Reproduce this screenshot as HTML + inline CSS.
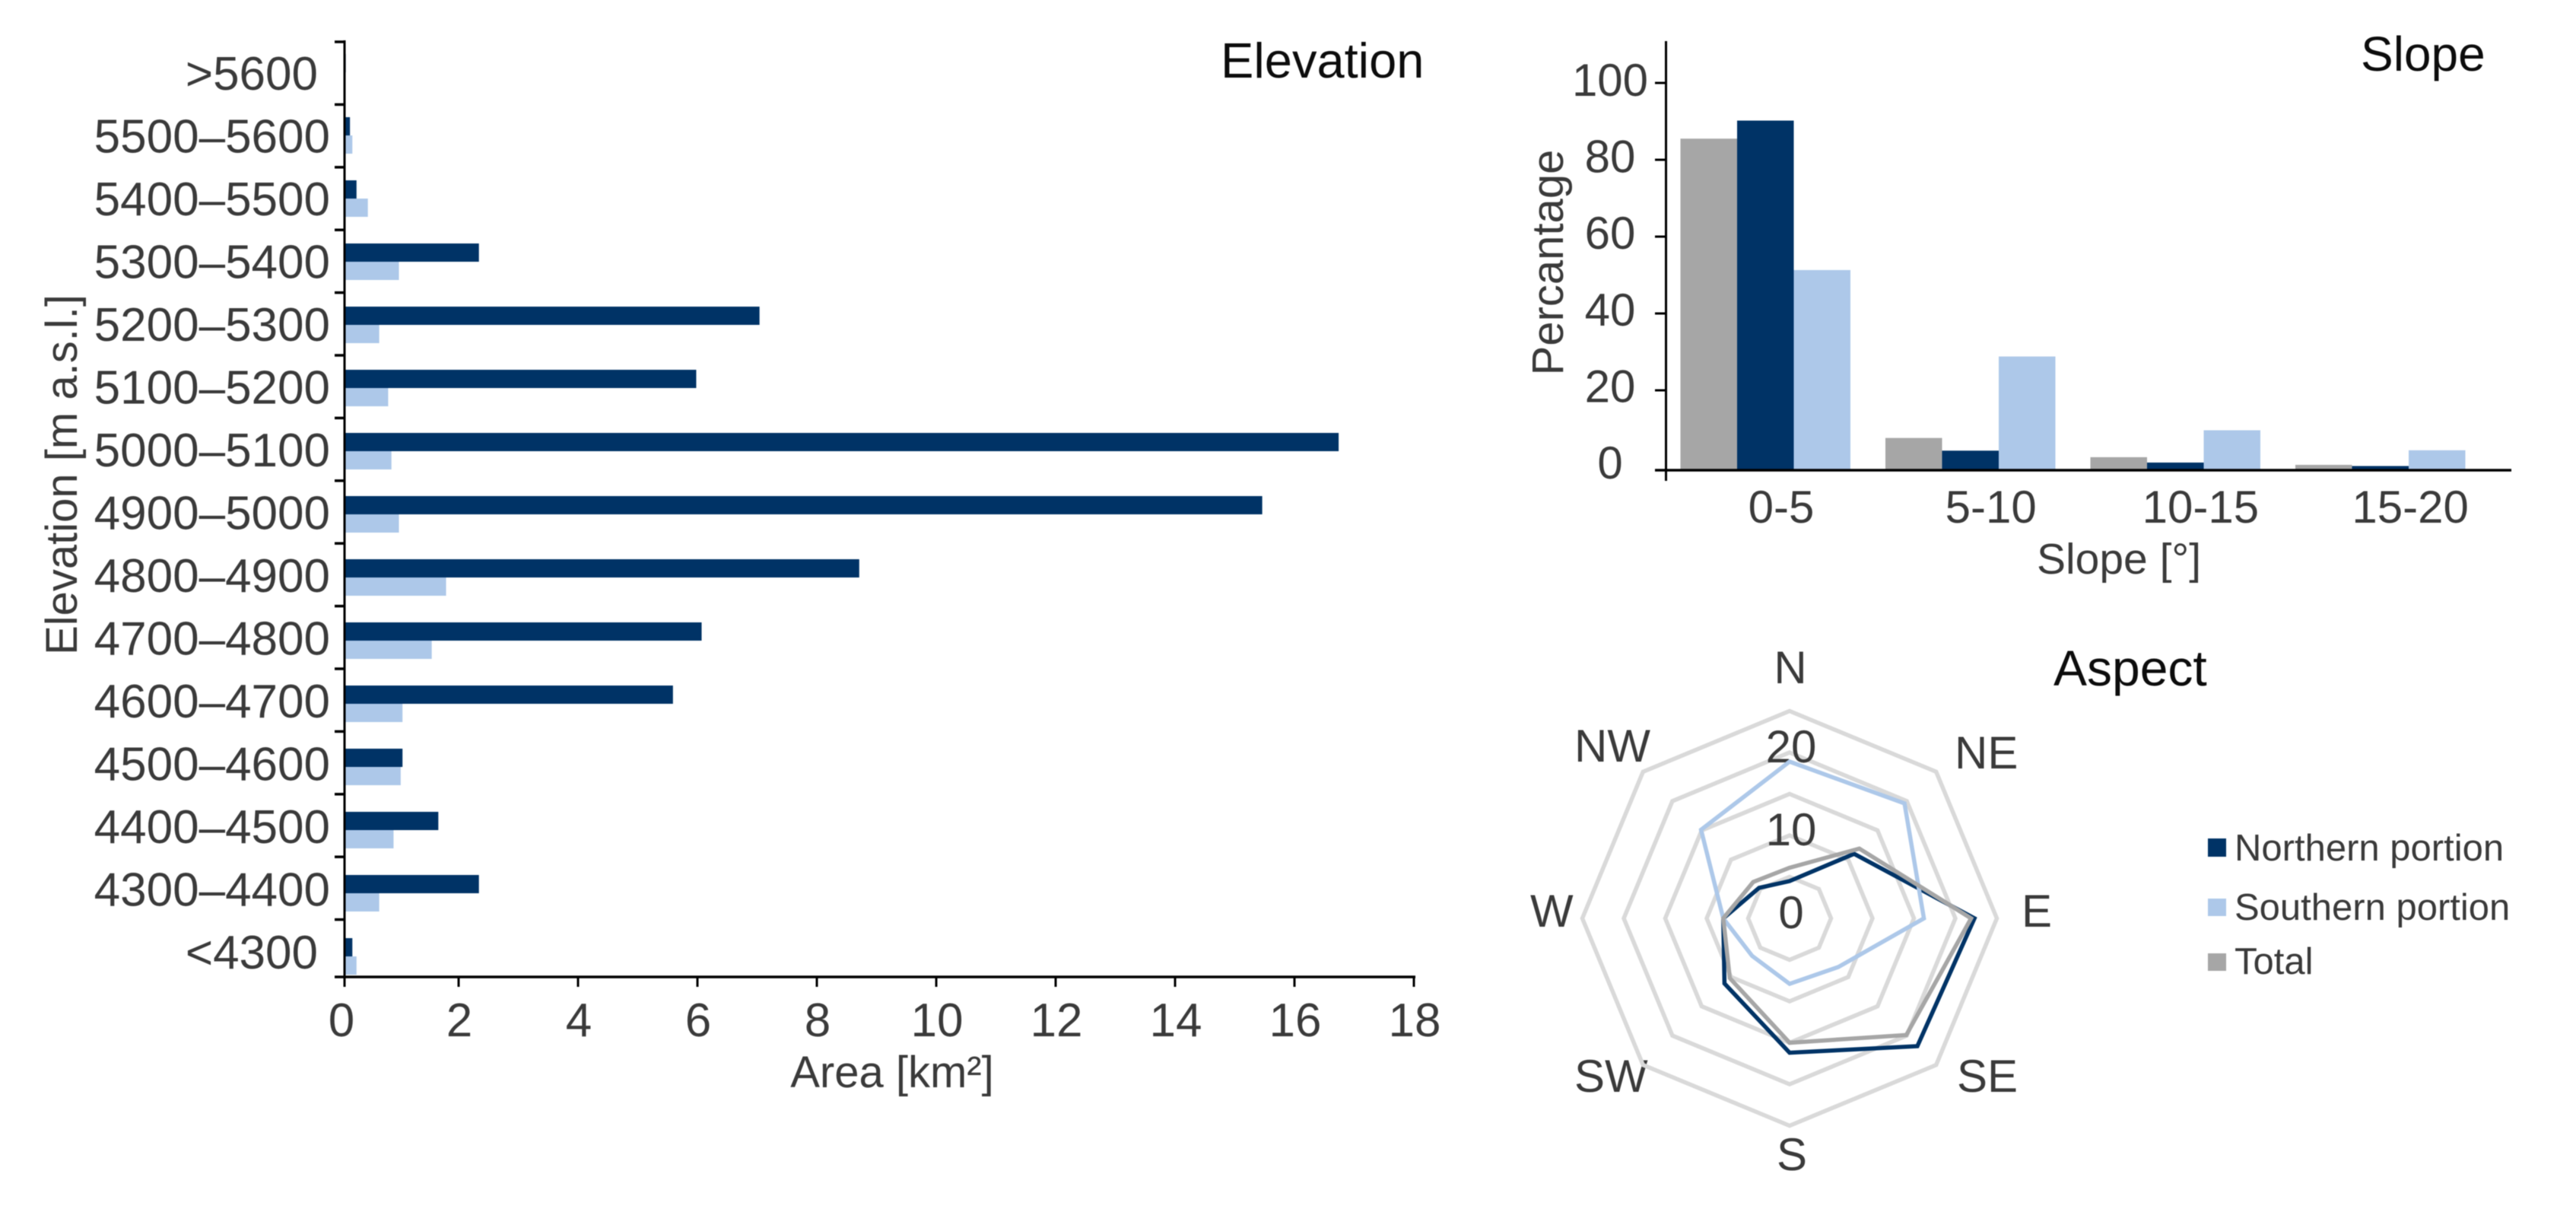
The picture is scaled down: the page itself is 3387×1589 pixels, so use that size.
<!DOCTYPE html>
<html lang="en">
<head>
<meta charset="utf-8">
<title>Elevation, slope and aspect</title>
<style>
html,body{margin:0;padding:0;background:#fff;width:3387px;height:1589px;overflow:hidden}
svg{display:block;filter:blur(.6px)}
text{font-family:"Liberation Sans",Arial,sans-serif;fill:#3a3a3a}
.title{fill:#0c0c0c}
</style>
</head>
<body>
<svg id="figure" xmlns="http://www.w3.org/2000/svg" width="3387" height="1589" viewBox="0 0 3387 1589">
  <rect width="3387" height="1589" fill="#fff"/>
  <g id="elevation">
    <text class="title" x="1605" y="102" font-size="65">Elevation</text>
    <text transform="translate(101 624) rotate(-90)" text-anchor="middle" font-size="58">Elevation [m a.s.l.]</text>
    <text x="1173" y="1429" text-anchor="middle" font-size="58">Area [km²]</text>
  </g>
  <g id="slope">
    <text class="title" x="3104" y="93" font-size="64">Slope</text>
    <text transform="translate(2055 345) rotate(-90)" text-anchor="middle" font-size="58">Percantage</text>
    <text x="2786" y="754" text-anchor="middle" font-size="57">Slope [°]</text>
  </g>
  <g id="aspect">
    <text class="title" x="2700" y="901" font-size="66">Aspect</text>
    <text x="2354" y="898" text-anchor="middle" font-size="60">N</text>
    <text x="2570" y="1010" font-size="60">NE</text>
    <text x="2658" y="1218" font-size="60">E</text>
    <text x="2573" y="1435" font-size="60">SE</text>
    <text x="2356" y="1538" text-anchor="middle" font-size="60">S</text>
    <text x="2070" y="1435" font-size="60">SW</text>
    <text x="2012" y="1218" font-size="60">W</text>
    <text x="2070" y="1001" font-size="60">NW</text>
  </g>
  <g id="legend">
    <rect x="2903" y="1102" width="24" height="24" fill="#003366"/>
    <text x="2938" y="1131" font-size="49">Northern portion</text>
    <rect x="2903" y="1181" width="24" height="23" fill="#adc8e9"/>
    <text x="2938" y="1209" font-size="49">Southern portion</text>
    <rect x="2903" y="1253" width="24" height="23" fill="#a6a6a6"/>
    <text x="2938" y="1280" font-size="49">Total</text>
  </g>
</svg>
<script>
const elevationCategories = [">5600","5500–5600","5400–5500","5300–5400","5200–5300","5100–5200","5000–5100","4900–5000","4800–4900","4700–4800","4600–4700","4500–4600","4400–4500","4300–4400","<4300"];
const elevationNorthern = [0.11,0.18,0.29,2.34,7.04,5.98,16.74,15.46,8.71,6.07,5.59,1.06,1.66,2.34,0.22];
const elevationSouthern = [0,0.22,0.48,1.0,0.67,0.82,0.875,1.0,1.79,1.55,1.06,1.03,0.91,0.67,0.29];
const elevationTicks = [0,2,4,6,8,10,12,14,16,18];

const slopeCategories = ["0-5","5-10","10-15","15-20"];
const slopeTotal = [85.5,7.6,2.6,0.6];
const slopeNorthern = [90.2,4.3,1.2,0.3];
const slopeSouthern = [51.3,28.8,9.6,4.4];
const slopeTicks = [0,20,40,60,80,100];

const aspectDirections = ["N","NE","E","SE","S","SW","W","NW"];
const aspectNorthern = [4.5,11,22.3,21.8,16.2,11.1,8,5.2];
const aspectSouthern = [18.9,19.6,16.2,8.3,7.9,6.4,8,15.1];
const aspectTotal = [6.1,11.9,21.9,19.9,15,10.2,8,6.2];
const aspectRings = [5,10,15,20,25];
const aspectTicks = [0,10,20];

const NS = "http://www.w3.org/2000/svg";
function mk(parent, tag, attrs, txt) {
  const el = document.createElementNS(NS, tag);
  for (const k in attrs) el.setAttribute(k, attrs[k]);
  if (txt !== undefined) el.textContent = txt;
  parent.appendChild(el);
  return el;
}
const COL_N = "#003366", COL_S = "#adc8e9", COL_T = "#a6a6a6";

/* Elevation chart */
(function () {
  const g = document.getElementById("elevation");
  const axisX = 453, axisY = 1284, topY = 55;
  const xScale = v => 446 + 78.5 * v;
  const barMid = i => 95 + 83 * i;
  const tickY = i => topY + 82.4 * i;
  const barH = 24;
  elevationCategories.forEach((c, i) => {
    const n = Math.max(0, xScale(elevationNorthern[i]) - axisX);
    const s = Math.max(0, xScale(elevationSouthern[i]) - axisX);
    const bn = mk(g, "rect", {x: axisX, y: barMid(i) - barH, width: n, height: barH, fill: COL_N});
    
    
    const bs = mk(g, "rect", {x: axisX, y: barMid(i), width: s, height: barH, fill: COL_S});
    
    
    const right = c.length < 9 ? 418 : 434;
    const t = mk(g, "text", {x: right, y: 96 + 82.5 * i + 22, "text-anchor": "end", "font-size": 62}, c);
    
    
    const tk = mk(g, "line", {x1: 440, x2: axisX, y1: tickY(i), y2: tickY(i), stroke: "#000", "stroke-width": 3.5});
    
    
  });
  const ya = mk(g, "line", {x1: axisX, x2: axisX, y1: topY - 2, y2: axisY + 12, stroke: "#000", "stroke-width": 3});
  
  
  const xa = mk(g, "line", {x1: 440, x2: xScale(18) + 2, y1: axisY, y2: axisY, stroke: "#000", "stroke-width": 3.5});
  
  
  elevationTicks.forEach(v => {
    const x = v === 0 ? axisX : xScale(v);
    const tk = mk(g, "line", {x1: x, x2: x, y1: axisY, y2: axisY + 13, stroke: "#000", "stroke-width": 3});
    
    
    const t = mk(g, "text", {x: v === 0 ? 449 : x + 1, y: 1362, "text-anchor": "middle", "font-size": 62}, v);
    
    
  });
})();

/* Slope chart */
(function () {
  const g = document.getElementById("slope");
  const axisX = 2190.5, baseY = 618;
  const yScale = v => 614 - 5.05 * v;
  const barW = 74.5;
  const groupX = i => 2209.5 + 269.5 * i;
  const series = [[slopeTotal, COL_T, 'slope-bar-total'], [slopeNorthern, COL_N, 'slope-bar-northern'], [slopeSouthern, COL_S, 'slope-bar-southern']];
  slopeCategories.forEach((c, i) => {
    series.forEach((s, j) => {
      const top = yScale(s[0][i]);
      const b = mk(g, "rect", {x: groupX(i) + j * barW, y: top, width: barW, height: Math.max(0, baseY - top), fill: s[1]});
      
      
    });
    const t = mk(g, "text", {x: 2342 + 275.7 * i, y: 687, "text-anchor": "middle", "font-size": 60}, c);
    
    
  });
  const ya = mk(g, "line", {x1: axisX, x2: axisX, y1: 54, y2: 632, stroke: "#000", "stroke-width": 3});
  
  
  const xa = mk(g, "line", {x1: 2176, x2: 3302, y1: baseY, y2: baseY, stroke: "#000", "stroke-width": 3.5});
  
  
  slopeTicks.forEach(v => {
    const y = v === 0 ? baseY : yScale(v);
    const tk = mk(g, "line", {x1: 2176, x2: axisX, y1: y, y2: y, stroke: "#000", "stroke-width": 3});
    
    
    const t = mk(g, "text", {x: 2117, y: 629 - 5.03 * v, "text-anchor": "middle", "font-size": 60}, v);
    
    
  });
})();

/* Aspect radar chart */
(function () {
  const g = document.getElementById("aspect");
  const cx = 2353, cy = 1207, unit = 10.9;
  const pt = (v, i) => {
    const a = i * Math.PI * 2 / aspectDirections.length;
    return (cx + v * unit * Math.sin(a)).toFixed(1) + "," + (cy - v * unit * Math.cos(a)).toFixed(1);
  };
  aspectRings.forEach(r => {
    const p = mk(g, "polygon", {points: aspectDirections.map((d, i) => pt(r, i)).join(" "), fill: "none", stroke: "#d9d9d9", "stroke-width": 5.5, "stroke-linejoin": "miter"});
    
    
  });
  aspectTicks.forEach(v => {
    const t = mk(g, "text", {x: 2355, y: cy + 13 - v * unit, "text-anchor": "middle", "font-size": 60}, v);
    
    
  });
  const pn = mk(g, "polygon", {points: aspectNorthern.map(pt).join(" "), fill: "none", stroke: COL_N, "stroke-width": 5.5, "stroke-linejoin": "miter"});
  
  
  const ps = mk(g, "polygon", {points: aspectSouthern.map(pt).join(" "), fill: "none", stroke: COL_S, "stroke-width": 5.5, "stroke-linejoin": "miter"});
  
  
  const pt2 = mk(g, "polygon", {points: aspectTotal.map(pt).join(" "), fill: "none", stroke: COL_T, "stroke-width": 5.5, "stroke-linejoin": "miter"});
  
  
})();
</script>
</body>
</html>
